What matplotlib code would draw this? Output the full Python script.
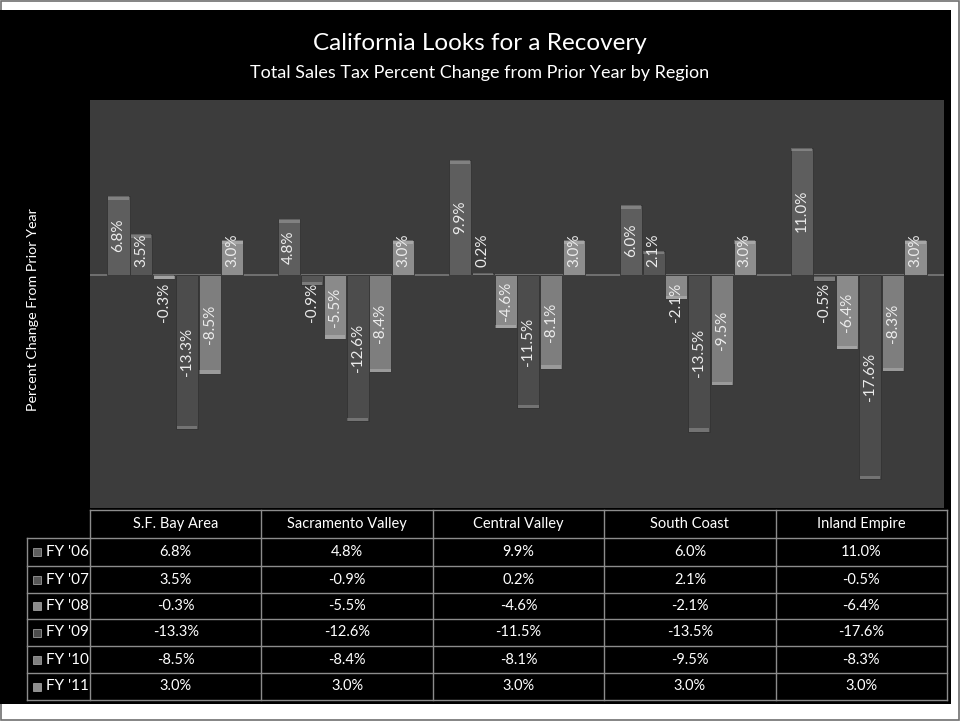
import numpy as np
import matplotlib
matplotlib.use("Agg")
import matplotlib.pyplot as plt
from matplotlib.patches import Rectangle

plt.rcParams['font.family'] = ['Lato', 'DejaVu Sans']

regions = ["S.F. Bay Area", "Sacramento Valley", "Central Valley", "South Coast", "Inland Empire"]
years = ["FY '06", "FY '07", "FY '08", "FY '09", "FY '10", "FY '11"]
fy06 = [6.8, 4.8, 9.9, 6.0, 11.0]
fy07 = [3.5, -0.9, 0.2, 2.1, -0.5]
fy08 = [-0.3, -5.5, -4.6, -2.1, -6.4]
fy09 = [-13.3, -12.6, -11.5, -13.5, -17.6]
fy10 = [-8.5, -8.4, -8.1, -9.5, -8.3]
fy11 = [3.0, 3.0, 3.0, 3.0, 3.0]
series = [fy06, fy07, fy08, fy09, fy10, fy11]
colors = ["#5e5e5e", "#565656", "#8a8a8a", "#4c4c4c", "#7e7e7e", "#8e8e8e"]

W, H = 960, 721
fig = plt.figure(figsize=(9.6, 7.21), dpi=100)
fig.patch.set_facecolor("white")

# background / frame / table layer in pixel coords
bg = fig.add_axes([0, 0, 1, 1])
bg.set_xlim(0, W)
bg.set_ylim(H, 0)
bg.axis("off")
bg.add_patch(Rectangle((0.5, 0.5), W - 1.5, H - 1.5, facecolor="white", edgecolor="#707070", lw=1.2))
bg.add_patch(Rectangle((0, 10), 951, 694, facecolor="black", edgecolor="none"))

bg.text(480, 43, "California Looks for a Recovery", color="white", fontsize=17.5,
        ha="center", va="center")
bg.text(480, 73, "Total Sales Tax Percent Change from Prior Year by Region", color="white",
        fontsize=13, ha="center", va="center")
bg.text(33, 310, "Percent Change From Prior Year", color="white", fontsize=10.3,
        rotation=90, ha="center", va="center")

# plot area
px0, px1, py0, py1 = 90, 944, 100, 508
ax = fig.add_axes([px0 / W, 1 - py1 / H, (px1 - px0) / W, (py1 - py0) / H])
ax.set_facecolor("#3c3c3c")
ax.set_xlim(-0.5, len(regions) - 0.5)
ax.set_ylim(-20.1, 15.1)
ax.axis("off")
ax.add_patch(Rectangle((0, 0), 1, 1, transform=ax.transAxes, facecolor="#3c3c3c", zorder=0))
ax.axhline(0, color="#7a7a7a", lw=1.2, zorder=1)

n = len(series)
bw = 0.8 / n
x = np.arange(len(regions))
for i, (vals, c) in enumerate(zip(series, colors)):
    xs = x - 0.4 + bw * (i + 0.5)
    v = np.array(vals)
    ax.bar(xs, v, width=bw * 0.97, color=c, edgecolor="#333333", lw=0.6, zorder=2)
    # bevel highlight at bar end
    cap = np.sign(v) * np.minimum(np.abs(v), 0.3)
    ax.bar(xs, -cap, bottom=v, width=bw * 0.9, color="white", alpha=0.22, lw=0, zorder=2.5)
    for xi, vi in zip(xs, vals):
        lbl = f"{vi:.1f}%"
        if abs(vi) >= 4:
            ax.text(xi, vi / 2, lbl, rotation=90, ha="center", va="center",
                    color="#ececec", fontsize=11, zorder=3)
        else:
            s = 1 if vi >= 0 else -1
            ax.text(xi, s * 0.7, lbl, rotation=90, ha="center",
                    va="bottom" if s > 0 else "top",
                    color="#ececec", fontsize=11, zorder=3)

# data table
lc = "#8c8c8c"
col_edges = np.linspace(90, 947, len(regions) + 1)
row_edges = [510, 538, 566, 593, 619, 646, 673, 700]
lab_left = 27
for j, y in enumerate(row_edges):
    left = col_edges[0] if j == 0 else lab_left
    bg.plot([left, col_edges[-1]], [y, y], color=lc, lw=1)
for xe in col_edges:
    bg.plot([xe, xe], [row_edges[0], row_edges[-1]], color=lc, lw=1)
bg.plot([lab_left, lab_left], [row_edges[1], row_edges[-1]], color=lc, lw=1)

for k, r in enumerate(regions):
    cx = (col_edges[k] + col_edges[k + 1]) / 2
    bg.text(cx, (row_edges[0] + row_edges[1]) / 2, r, color="white", fontsize=10.5,
            ha="center", va="center")
for i, (yr, vals, c) in enumerate(zip(years, series, colors)):
    cy = (row_edges[i + 1] + row_edges[i + 2]) / 2
    bg.add_patch(Rectangle((33, cy - 4), 8, 8, facecolor=c, edgecolor="#b0b0b0", lw=0.5))
    bg.text(46, cy, yr, color="white", fontsize=11, ha="left", va="center")
    for k, vi in enumerate(vals):
        cx = (col_edges[k] + col_edges[k + 1]) / 2
        bg.text(cx, cy, f"{vi:.1f}%", color="white", fontsize=10.5, ha="center", va="center")

fig.savefig("out.png", dpi=100, facecolor=fig.get_facecolor())
